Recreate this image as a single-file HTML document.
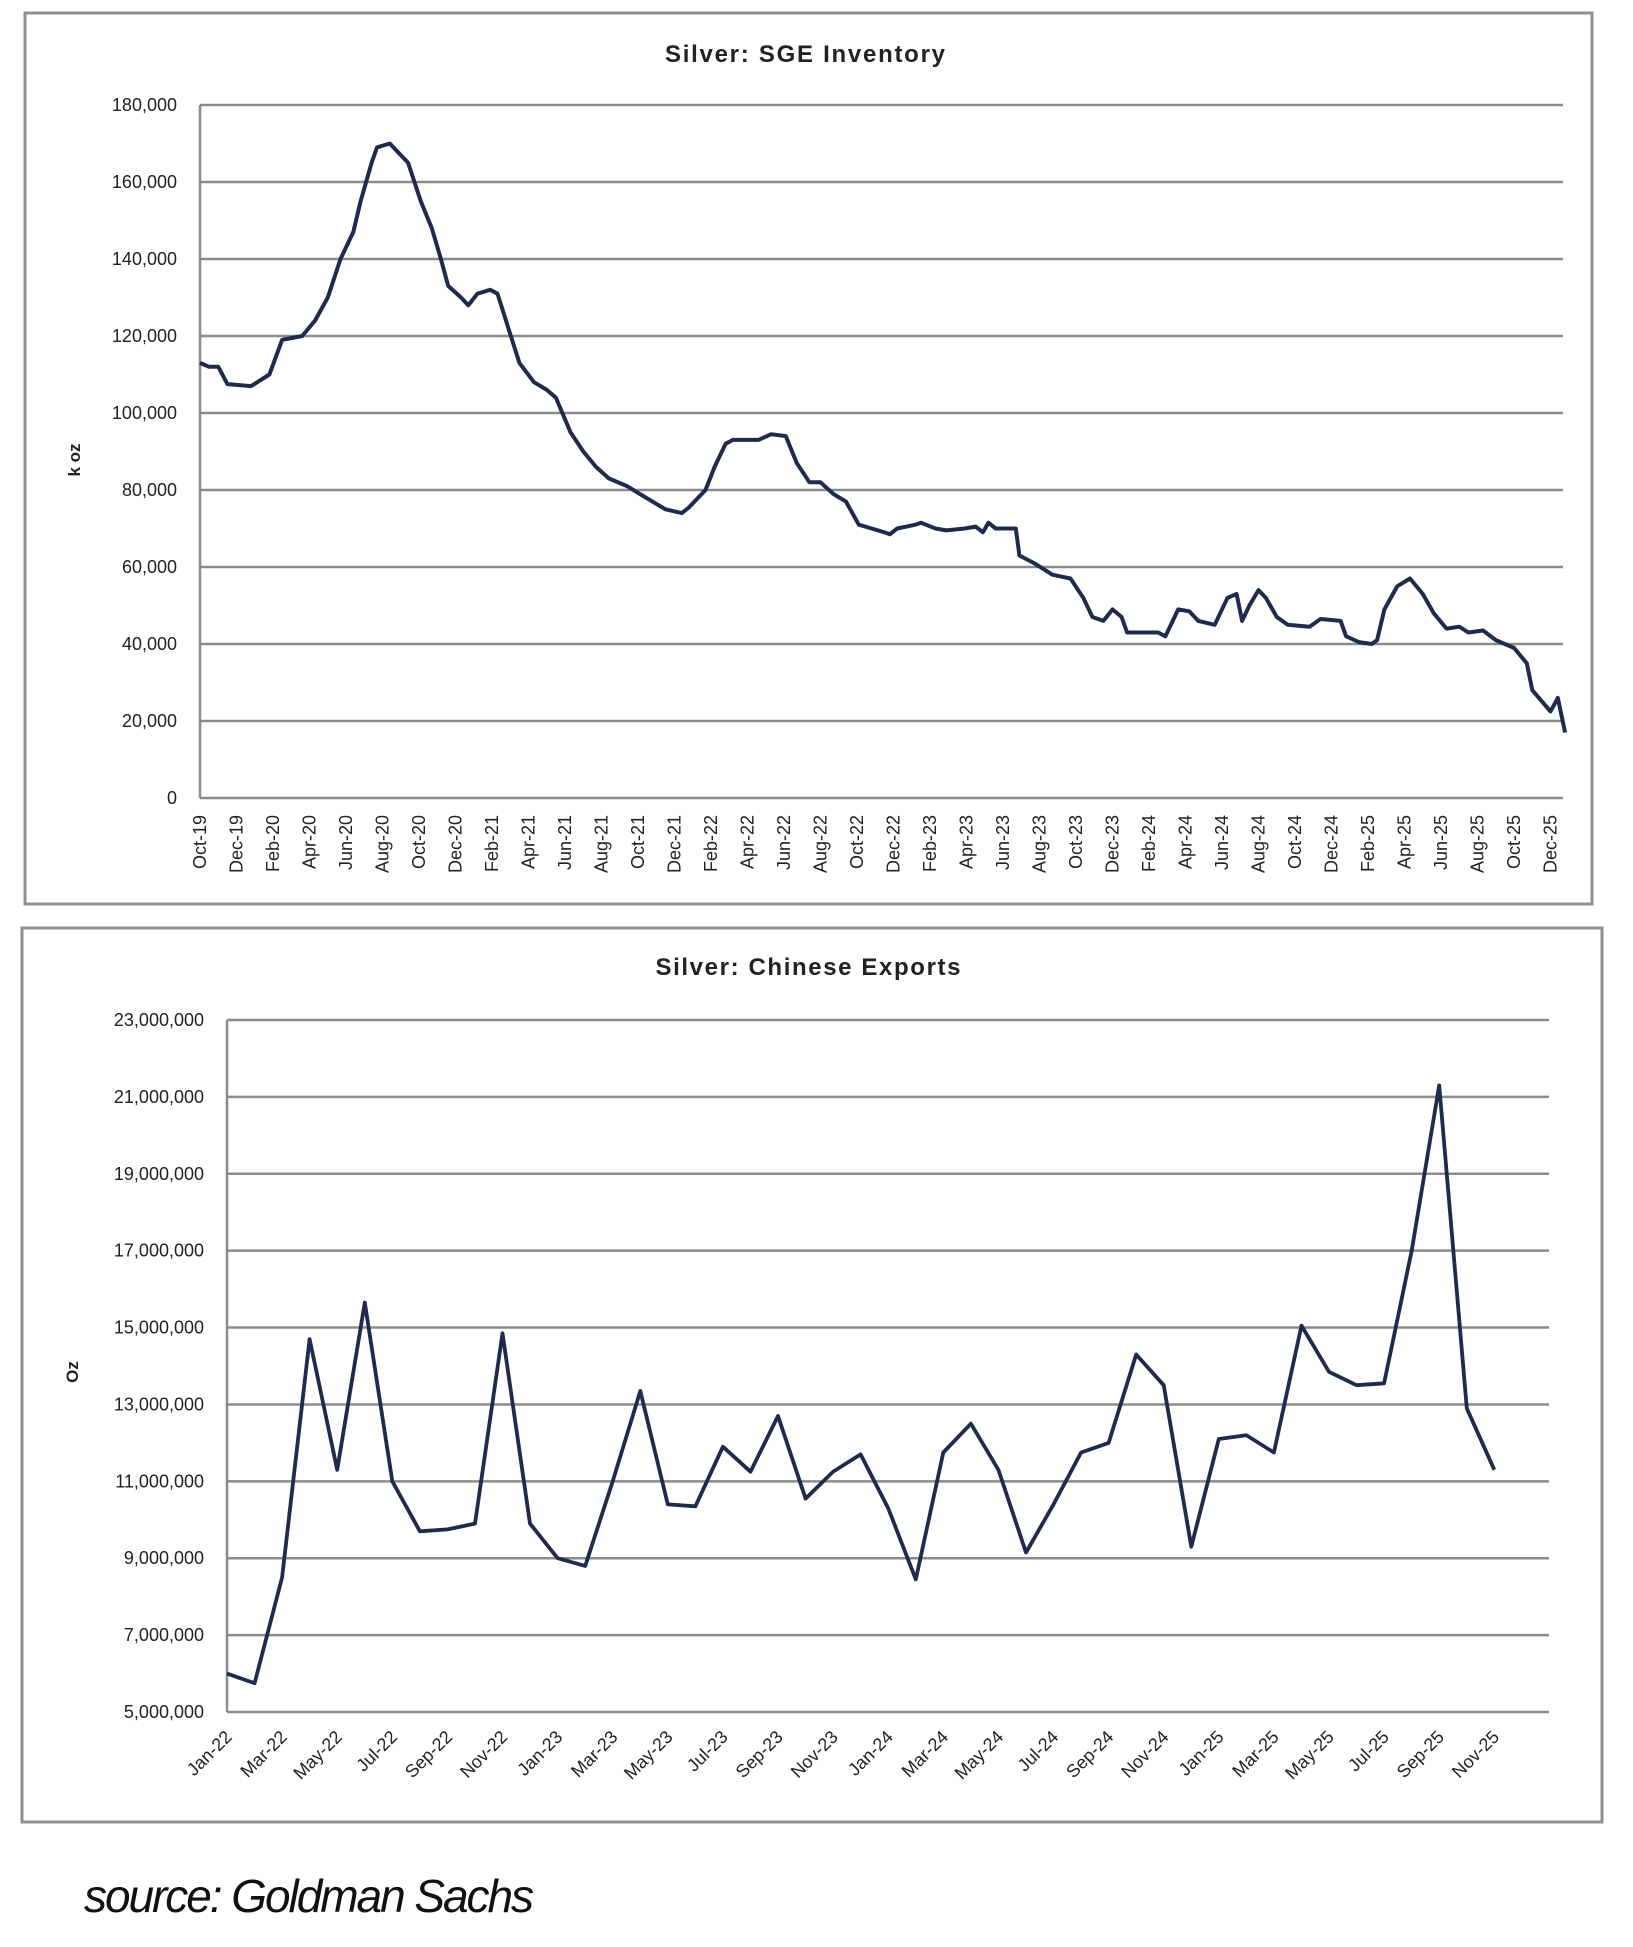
<!DOCTYPE html>
<html><head><meta charset="utf-8"><style>
html,body{margin:0;padding:0;background:#fff;}
svg{display:block;font-family:"Liberation Sans",sans-serif;}
</style></head><body>
<svg id="root" width="1633" height="1947" viewBox="0 0 1633 1947" xmlns="http://www.w3.org/2000/svg">
<rect x="25" y="13" width="1567" height="891" fill="#fff" stroke="#8f8f8f" stroke-width="3"/>
<text x="805" y="62" text-anchor="middle" font-size="24" font-weight="bold" fill="#222" textLength="280">Silver: SGE Inventory</text>
<text transform="translate(80,460) rotate(-90)" text-anchor="middle" font-size="17" font-weight="bold" fill="#222">k oz</text>
<g id="g1"></g>
<rect x="22" y="928" width="1580" height="894" fill="#fff" stroke="#8f8f8f" stroke-width="3"/>
<text x="808" y="975" text-anchor="middle" font-size="24" font-weight="bold" fill="#222" textLength="305">Silver: Chinese Exports</text>
<text transform="translate(78,1372) rotate(-90)" text-anchor="middle" font-size="17" font-weight="bold" fill="#222">Oz</text>
<g id="g2"></g>
<text x="84" y="1912" font-size="46" font-style="italic" fill="#111" textLength="450">source: Goldman Sachs</text>
</svg>
<script>
// ---- Chart 1: SGE inventory (k oz), t = months since Oct-19 ----
const sgeT = [0,0.5,1,1.5,2.8,3.8,4.5,5.6,6.3,7,7.7,8.4,8.8,9.4,9.7,10.4,10.8,11.4,12.1,12.7,13.2,13.6,14.3,14.7,15.2,15.9,16.3,16.9,17.5,18.3,19,19.5,20.3,21,21.7,22.4,23.4,24.1,24.8,25.5,26.4,26.8,27.7,28.2,28.8,29.2,30.6,31.3,32.1,32.7,33.4,34,34.7,35.4,36.1,36.8,37.5,37.8,38.2,39.2,39.5,40.3,40.9,41.9,42.5,42.9,43.2,43.6,44.7,44.9,45.7,46.7,47.7,48.4,48.9,49.5,50,50.5,50.8,52.5,52.9,53.6,54.2,54.7,55.6,56.3,56.8,57.1,57.5,58,58.4,59,59.6,60.8,61.4,62.5,62.8,63.5,64.2,64.5,64.9,65.6,66.3,67,67.6,68.3,69,69.5,70.3,71,72,72.7,73,74,74.4,74.8];
const sgeV = [113,112,112,107.5,107,110,119,120,124,130,140,147,155,165,169,170,168,165,155,148,140,133,130,128,131,132,131,122,113,108,106,104,95,90,86,83,81,79,77,75,74,75.5,80,86,92,93,93,94.5,94,87,82,82,79,77,71,70,69,68.5,70,71,71.5,70,69.5,70,70.5,69,71.5,70,70,63,61,58,57,52,47,46,49,47,43,43,42,49,48.5,46,45,52,53,46,50,54,52,47,45,44.5,46.5,46,42,40.5,40,41,49,55,57,53,48,44,44.5,43,43.5,41,39,35,28,22.5,26,17];
const sgeYTicks = [0,20000,40000,60000,80000,100000,120000,140000,160000,180000];
const sgeXLabels = ["Oct-19","Dec-19","Feb-20","Apr-20","Jun-20","Aug-20","Oct-20","Dec-20","Feb-21","Apr-21","Jun-21","Aug-21","Oct-21","Dec-21","Feb-22","Apr-22","Jun-22","Aug-22","Oct-22","Dec-22","Feb-23","Apr-23","Jun-23","Aug-23","Oct-23","Dec-23","Feb-24","Apr-24","Jun-24","Aug-24","Oct-24","Dec-24","Feb-25","Apr-25","Jun-25","Aug-25","Oct-25","Dec-25"];

// ---- Chart 2: Chinese exports (oz, millions), Jan-22..Nov-25 ----
const expMonths = ["Jan-22","Feb-22","Mar-22","Apr-22","May-22","Jun-22","Jul-22","Aug-22","Sep-22","Oct-22","Nov-22","Dec-22","Jan-23","Feb-23","Mar-23","Apr-23","May-23","Jun-23","Jul-23","Aug-23","Sep-23","Oct-23","Nov-23","Dec-23","Jan-24","Feb-24","Mar-24","Apr-24","May-24","Jun-24","Jul-24","Aug-24","Sep-24","Oct-24","Nov-24","Dec-24","Jan-25","Feb-25","Mar-25","Apr-25","May-25","Jun-25","Jul-25","Aug-25","Sep-25","Oct-25","Nov-25"];
const expValues = [6.0,5.75,8.5,14.7,11.3,15.65,11.0,9.7,9.75,9.9,14.85,9.9,9.0,8.8,11.0,13.35,10.4,10.35,11.9,11.25,12.7,10.55,11.25,11.7,10.3,8.45,11.75,12.5,11.3,9.15,10.4,11.75,12.0,14.3,13.5,9.3,12.1,12.2,11.75,15.05,13.85,13.5,13.55,17.0,21.3,12.9,11.3];
const expYTicks = [5000000,7000000,9000000,11000000,13000000,15000000,17000000,19000000,21000000,23000000];

const NS = "http://www.w3.org/2000/svg";
function mk(tag, attrs, parent){const e=document.createElementNS(NS,tag);for(const k in attrs)e.setAttribute(k,attrs[k]);parent.appendChild(e);return e;}
function fmt(v){return v.toLocaleString("en-US");}
const GRID="#8c8c8c", LINE="#1f2b4d";

// chart 1
(function(){
  const g=document.getElementById("g1");
  const L=200,R=1563,T=105,B=798;
  const y=v=>B-(v/180000)*(B-T);
  const x=t=>L+t*18.25;
  sgeYTicks.forEach(v=>{
    const ln=mk("line",{x1:L,x2:R,y1:y(v),y2:y(v),stroke:GRID,"stroke-width":2.5},g);
    
    
    const tx=mk("text",{x:177,y:y(v)+6,"text-anchor":"end","font-size":18,fill:"#222"},g);
    tx.textContent=fmt(v);
    
    
  });
  const ax=mk("line",{x1:L,x2:L,y1:T,y2:B,stroke:GRID,"stroke-width":2.5},g);
  
  
  sgeXLabels.forEach((s,i)=>{
    const cx=x(i*2)+6;
    const tx=mk("text",{transform:`translate(${cx},815) rotate(-90)`,"text-anchor":"end","font-size":18,fill:"#222"},g);
    tx.textContent=s;
    
    
  });
  const pts=sgeT.map((t,i)=>x(t).toFixed(1)+","+y(sgeV[i]*1000).toFixed(1)).join(" ");
  const pl=mk("polyline",{points:pts,fill:"none",stroke:LINE,"stroke-width":4,"stroke-linejoin":"round"},g);
  
  
})();

// chart 2
(function(){
  const g=document.getElementById("g2");
  const L=227,R=1549,T=1020,B=1712;
  const y=v=>B-((v-5000000)/18000000)*(B-T);
  const x=i=>L+i*27.55;
  expYTicks.forEach(v=>{
    const ln=mk("line",{x1:L,x2:R,y1:y(v),y2:y(v),stroke:GRID,"stroke-width":2.5},g);
    
    
    const tx=mk("text",{x:204,y:y(v)+6,"text-anchor":"end","font-size":18,fill:"#222"},g);
    tx.textContent=fmt(v);
    
    
  });
  const ax=mk("line",{x1:L,x2:L,y1:T,y2:B,stroke:GRID,"stroke-width":2.5},g);
  
  
  expMonths.forEach((s,i)=>{
    if(i%2) return;
    const cx=x(i)+6;
    const tx=mk("text",{transform:`translate(${cx},1738) rotate(-45)`,"text-anchor":"end","font-size":18,fill:"#222"},g);
    tx.textContent=s;
    
    
  });
  const pts=expValues.map((v,i)=>x(i).toFixed(1)+","+y(v*1e6).toFixed(1)).join(" ");
  const pl=mk("polyline",{points:pts,fill:"none",stroke:LINE,"stroke-width":3.8,"stroke-linejoin":"round"},g);
  
  
})();
</script>
</body></html>
